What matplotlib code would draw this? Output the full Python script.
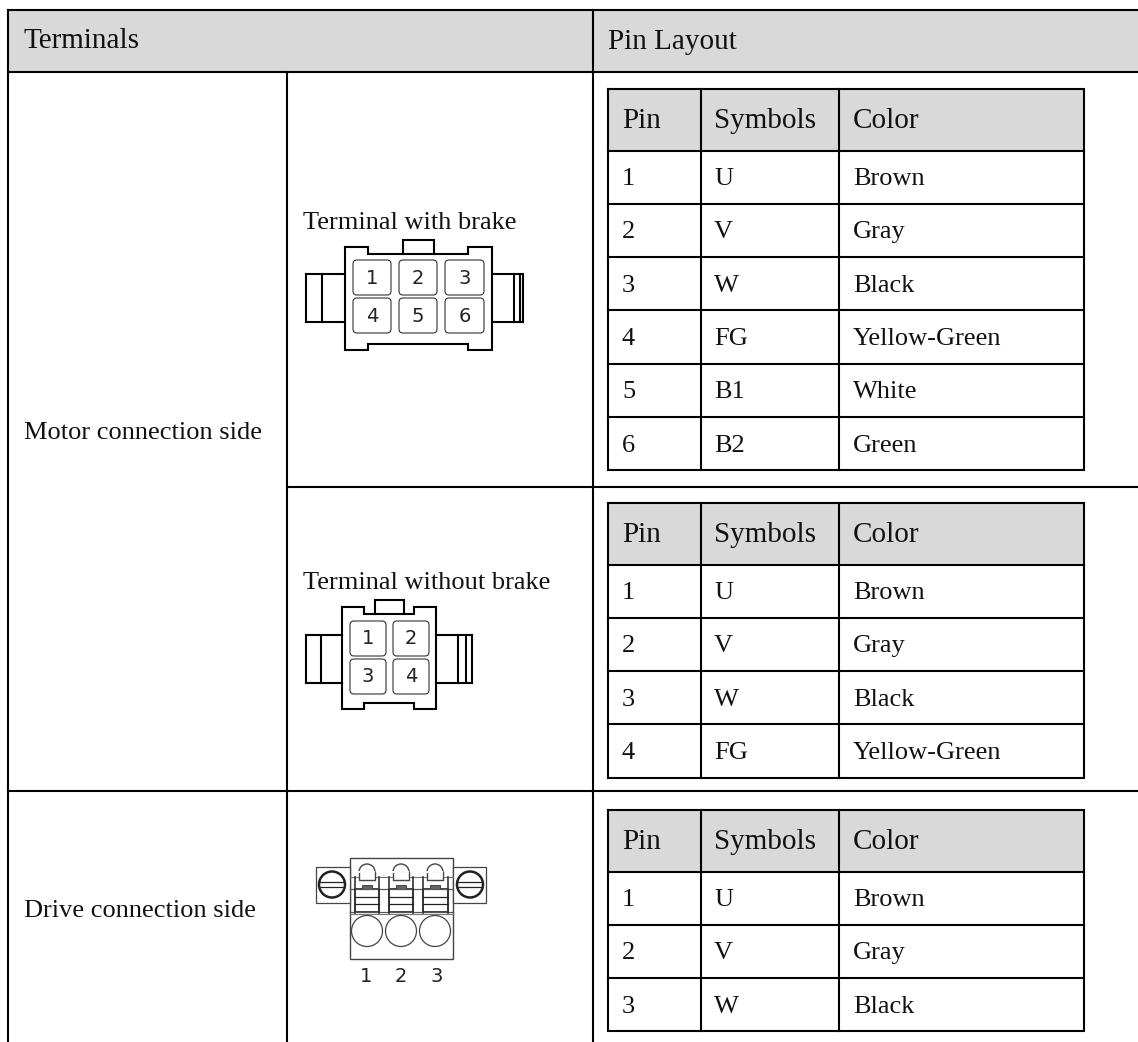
import matplotlib
matplotlib.use('Agg')
import matplotlib.pyplot as plt
from matplotlib.patches import Rectangle, FancyBboxPatch, Circle, Wedge

section_headers = ['Terminals', 'Pin Layout']
side_labels = ['Motor connection side', 'Drive connection side']
terminal_labels = ['Terminal with brake', 'Terminal without brake']
table_header = ['Pin', 'Symbols', 'Color']

pins_brake = ['1', '2', '3', '4', '5', '6']
symbols_brake = ['U', 'V', 'W', 'FG', 'B1', 'B2']
colors_brake = ['Brown', 'Gray', 'Black', 'Yellow-Green', 'White', 'Green']

pins_nobrake = ['1', '2', '3', '4']
symbols_nobrake = ['U', 'V', 'W', 'FG']
colors_nobrake = ['Brown', 'Gray', 'Black', 'Yellow-Green']

pins_drive = ['1', '2', '3']
symbols_drive = ['U', 'V', 'W']
colors_drive = ['Brown', 'Gray', 'Black']

GREY = '#d9d9d9'
SERIF = 'Liberation Serif'
HEAD_SIZE = 21
BODY_SIZE = 19
LW = 1.5

fig = plt.figure(figsize=(11.38, 10.42), dpi=100)
ax = fig.add_axes([0, 0, 1, 1])
ax.set_xlim(0, 1138)
ax.set_ylim(1042, 0)
ax.axis('off')


def line(xs, ys, lw=LW, c='black'):
    ax.plot(xs, ys, color=c, lw=lw, solid_capstyle='projecting', solid_joinstyle='miter')


def pin_table(top, pins, symbols, colors):
    x0, x1, x2, x3 = 608, 701, 839, 1084
    head_h = 61.5
    row_h = 53.3
    bottom = top + head_h + row_h * len(pins)
    ax.add_patch(Rectangle((x0, top), x3 - x0, head_h, fc=GREY, ec='none'))
    line([x0, x3, x3, x0, x0], [top, top, bottom, bottom, top])
    line([x1, x1], [top, bottom])
    line([x2, x2], [top, bottom])
    line([x0, x3], [top + head_h, top + head_h])
    for x, t in zip([622, 714, 853], table_header):
        ax.text(x, top + head_h / 2 + 1, t, family=SERIF, fontsize=HEAD_SIZE, va='center', color='#111111')
    for i, (p, s, c) in enumerate(zip(pins, symbols, colors)):
        y = top + head_h + row_h * i
        if i > 0:
            line([x0, x3], [y, y])
        for x, t in zip([622, 714, 853], [p, s, c]):
            ax.text(x, y + row_h / 2 + 2, t, family=SERIF, fontsize=BODY_SIZE, va='center', color='#111111')


def pin_box(x0, x1, y0, y1, label):
    ax.add_patch(FancyBboxPatch((x0 + 3, y0 + 3), x1 - x0 - 6, y1 - y0 - 6,
                                boxstyle='round,pad=3,rounding_size=4', fc='white', ec='#333333', lw=0.8))
    ax.text((x0 + x1) / 2, (y0 + y1) / 2 + 0.5, label, family='DejaVu Sans', fontsize=14,
            ha='center', va='center', color='#222222')


def connector(left, right, top, bot, nl, nr, tab0, tab1, wing_top, wing_bot, left_marks, right_marks):
    # body outline with the notches, tab and side wings
    line([left, left, nl, nl, nr, nr, right, right, nr, nr, nl, nl, left],
         [top, bot, bot, bot - 6.5, bot - 6.5, bot, bot, top, top, top + 6.5, top + 6.5, top, top])
    line([tab0, tab0, tab1, tab1], [top + 6.5, top - 7, top - 7, top + 6.5])
    line([left_marks[0], left], [wing_top, wing_top])
    line([left_marks[0], left], [wing_bot, wing_bot])
    line([right, right_marks[-1]], [wing_top, wing_top])
    line([right, right_marks[-1]], [wing_bot, wing_bot])
    for x in left_marks + right_marks:
        line([x, x], [wing_top, wing_bot])


# header band and main grid
ax.add_patch(Rectangle((8, 10), 1130, 61.5, fc=GREY, ec='none'))
line([8, 1138], [10, 10])
line([8, 1138], [71.5, 71.5])
line([8, 8], [10, 1042])
line([287, 287], [71.5, 1042])
line([593, 593], [10, 1042])
line([287, 1138], [487, 487])
line([8, 1138], [791, 791])

ax.text(24, 41, section_headers[0], family=SERIF, fontsize=HEAD_SIZE, va='center', color='#111111')
ax.text(608, 42, section_headers[1], family=SERIF, fontsize=HEAD_SIZE, va='center', color='#111111')
ax.text(24, 433, side_labels[0], family=SERIF, fontsize=BODY_SIZE, va='center', color='#111111')
ax.text(24, 911, side_labels[1], family=SERIF, fontsize=BODY_SIZE, va='center', color='#111111')
ax.text(303, 223, terminal_labels[0], family=SERIF, fontsize=BODY_SIZE, va='center', color='#111111')
ax.text(303, 583, terminal_labels[1], family=SERIF, fontsize=BODY_SIZE, va='center', color='#111111')

pin_table(89, pins_brake, symbols_brake, colors_brake)
pin_table(503, pins_nobrake, symbols_nobrake, colors_nobrake)
pin_table(810, pins_drive, symbols_drive, colors_drive)

# terminal with brake
connector(345, 492, 247, 350, 368, 468, 403, 434, 274, 322, [306, 322], [514, 520, 523])
cols = [(353, 391), (399, 437), (445, 484)]
rows = [(260, 295), (298, 333)]
for i, p in enumerate(pins_brake):
    c = cols[i % 3]
    r = rows[i // 3]
    pin_box(c[0], c[1], r[0], r[1], p)

# terminal without brake
connector(342, 436.5, 607, 709, 364, 414, 375, 404, 635, 683, [306, 321], [458, 466, 472])
cols = [(350, 386), (393, 429)]
rows = [(621, 656), (659, 694)]
for i, p in enumerate(pins_nobrake):
    c = cols[i % 2]
    r = rows[i // 2]
    pin_box(c[0], c[1], r[0], r[1], p)

# drive side plug
DARK = '#444444'
ax.add_patch(Rectangle((350, 858), 103, 101, fc='white', ec=DARK, lw=1.0))
ax.add_patch(Rectangle((316.5, 867), 33.5, 36, fc='white', ec=DARK, lw=0.9))
ax.add_patch(Rectangle((453, 867), 33.5, 36, fc='white', ec=DARK, lw=0.9))
for cx in [332, 470]:
    ax.add_patch(Circle((cx, 884.5), 13, fc='white', ec='#222222', lw=1.8))
    line([cx - 12, cx + 12], [882, 882], lw=0.9, c='#222222')
    line([cx - 12, cx + 12], [887, 887], lw=0.9, c='#222222')
line([350, 453], [877, 877], lw=0.8, c='#777777')
line([350, 453], [889, 889], lw=0.9, c='#555555')
line([350, 453], [912, 912], lw=0.9, c='#555555')
line([350, 453], [914, 914], lw=0.8, c='#777777')
for x0, x1, bx0, bx1 in [(359, 375, 355, 379), (393, 409, 389, 413), (427, 443, 423, 448)]:
    mid = (x0 + x1) / 2
    ax.add_patch(Rectangle((x0, 872), x1 - x0, 8, fc='white', ec='none', zorder=3))
    ax.add_patch(Wedge((mid, 872), 8, 180, 360, fc='white', ec=DARK, lw=1.0, zorder=3))
    ax.plot([x0, x0, x1, x1], [872, 880, 880, 872], color=DARK, lw=1.0, zorder=4)
    ax.plot([x0 + 0.5, x1 - 0.5], [872, 872], color='white', lw=1.4, zorder=4)
    line([bx0, bx0], [877, 913], lw=1.2, c='#333333')
    line([bx1, bx1], [877, 913], lw=1.2, c='#333333')
    ax.add_patch(Rectangle((bx0, 889), bx1 - bx0, 23, fc='white', ec='#222222', lw=1.2))
    line([bx0, bx1], [897, 897], lw=0.9, c='#222222')
    line([bx0, bx1], [904, 904], lw=0.9, c='#222222')
    ax.add_patch(Rectangle((mid - 5, 885), 10, 4, fc='#666666', ec='#333333', lw=0.6))
for cx in [367, 401, 435]:
    ax.add_patch(Circle((cx, 931), 15.5, fc='white', ec=DARK, lw=0.9))
for cx, p in zip([366, 401, 437], pins_drive):
    ax.text(cx, 977, p, family='DejaVu Sans', fontsize=14, ha='center', va='center', color='#222222')

fig.savefig('out.png', dpi=100)
